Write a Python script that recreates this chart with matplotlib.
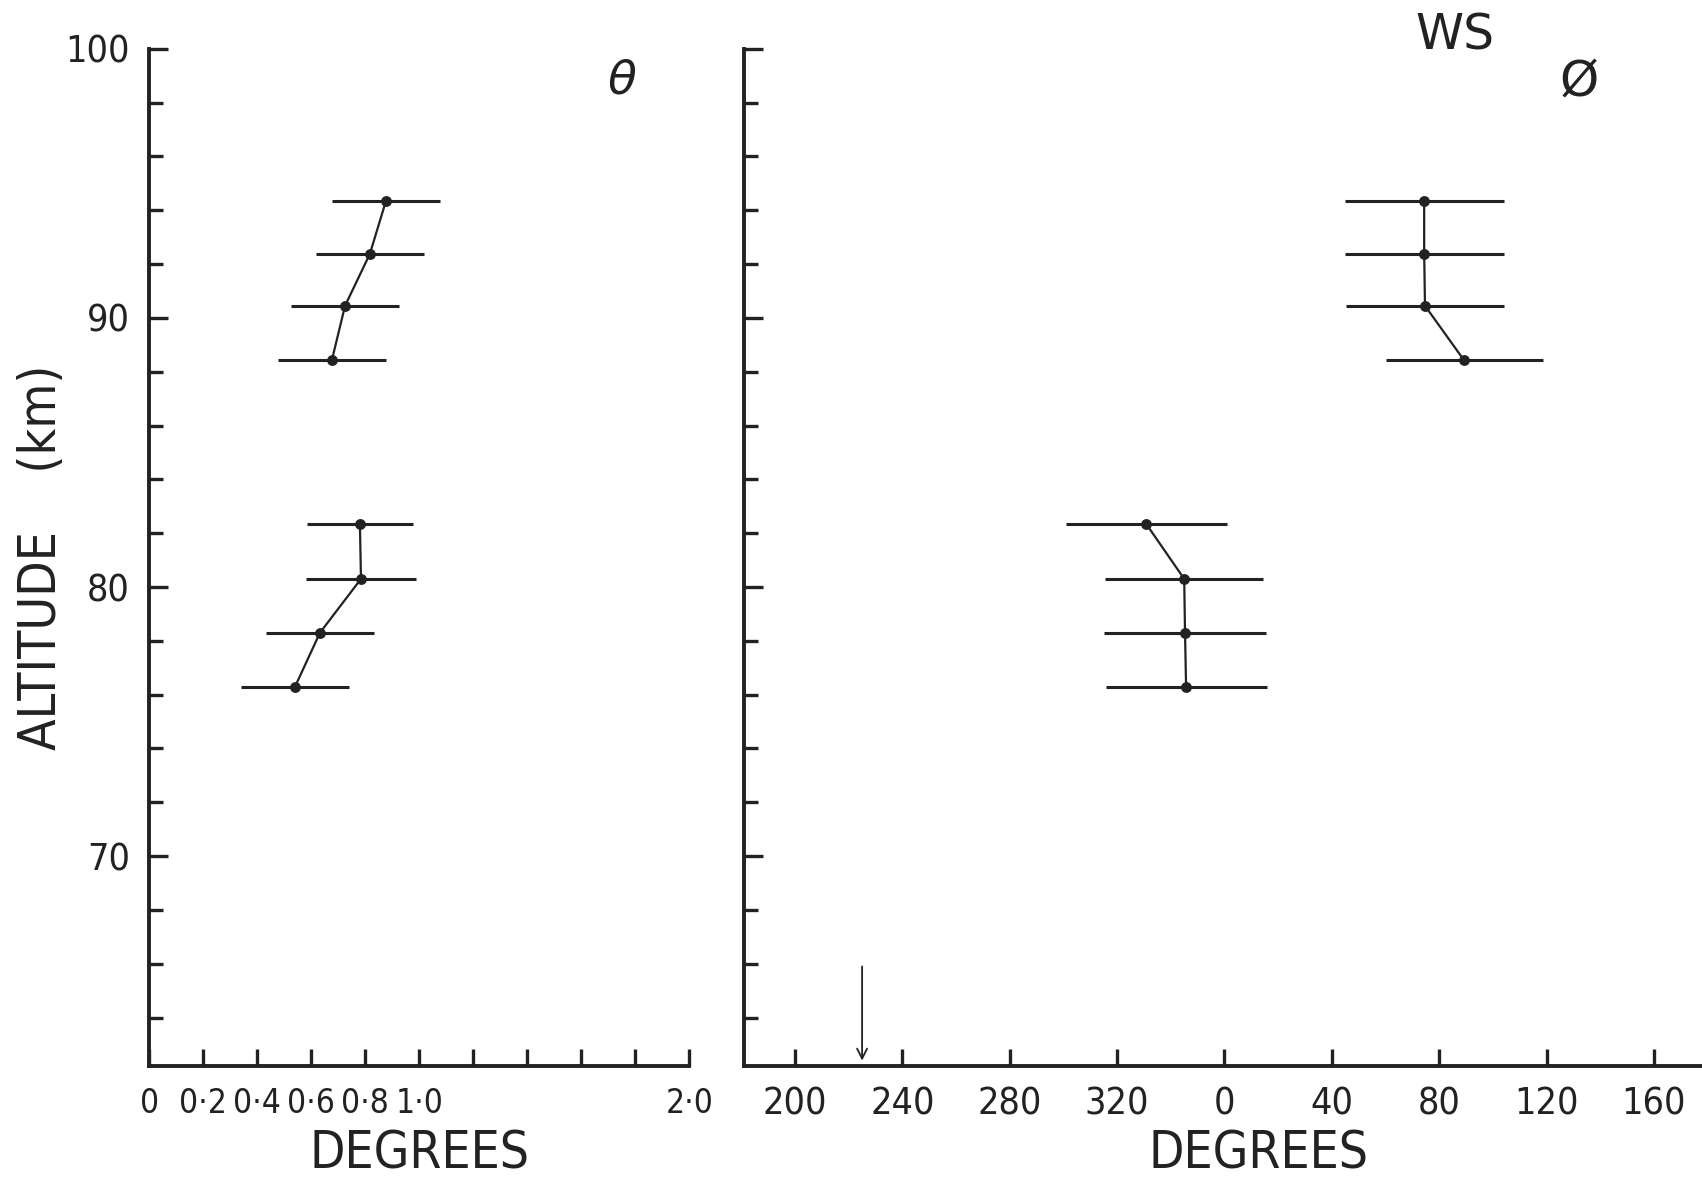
import matplotlib
matplotlib.use("Agg")
import matplotlib.pyplot as plt
from matplotlib import font_manager
from matplotlib.ticker import MultipleLocator, FixedLocator, FixedFormatter

# ---------------- data ----------------
altitude_upper = [94.33, 92.38, 90.45, 88.42]
altitude_lower = [82.35, 80.30, 78.30, 76.30]

theta_upper = [0.876, 0.817, 0.725, 0.676]
theta_lower = [0.780, 0.784, 0.632, 0.540]
theta_err_upper = [0.20, 0.20, 0.20, 0.20]
theta_err_lower = [0.195, 0.205, 0.20, 0.20]

phi_upper = [74.4, 74.4, 74.7, 89.3]       # degrees (direction)
phi_lower = [330.8, 345.0, 345.3, 345.7]
phi_err_upper = [29.6, 29.6, 29.5, 29.2]
phi_err_lower = [30.0, 29.5, 30.0, 30.0]

theta_ticks = [0.0, 0.2, 0.4, 0.6, 0.8, 1.0, 1.2, 1.4, 1.6, 1.8, 2.0]
theta_ticklabels = ["0", "0\u00b72", "0\u00b74", "0\u00b76", "0\u00b78", "1\u00b70",
                    "", "", "", "", "2\u00b70"]
phi_ticks = [200, 240, 280, 320, 360, 400, 440, 480, 520]
phi_ticklabels = ["200", "240", "280", "320", "0", "40", "80", "120", "160"]
alt_ticks = [70, 80, 90, 100]
alt_ticklabels = ["70", "80", "90", "100"]
arrow_phi = 225.0
arrow_alt = (65.9, 62.4)


def unwrap(vals):
    return [v if v >= 180 else v + 360 for v in vals]


# ---------------- fonts ----------------
names = {f.name for f in font_manager.fontManager.ttflist}
if "Liberation Sans Narrow" in names:
    FAM = ["Liberation Sans Narrow", "DejaVu Sans"]
    STRETCH = "normal"
else:
    FAM = ["DejaVu Sans"]
    STRETCH = "condensed"
plt.rcParams["font.family"] = FAM

INK = "#222222"
W, H = 1702, 1182
fig = plt.figure(figsize=(W / 100, H / 100), dpi=100)

ylim = (62.2, 100.0)
axL = fig.add_axes([149.3 / W, (H - 1066) / H, 540 / W, (1066 - 48.8) / H])
axR = fig.add_axes([744 / W, (H - 1066) / H, (W - 744) / W, (1066 - 48.8) / H])


def style(ax, xlabelsize):
    for s in ("top", "right"):
        ax.spines[s].set_visible(False)
    for s in ("left", "bottom"):
        ax.spines[s].set_linewidth(2.8)
        ax.spines[s].set_color(INK)
        ax.spines[s].set_capstyle("projecting")
    ax.set_ylim(*ylim)
    ax.yaxis.set_major_locator(FixedLocator(alt_ticks))
    ax.yaxis.set_minor_locator(MultipleLocator(2))
    ax.tick_params(axis="y", which="major", direction="in", length=14, width=2.4,
                   color=INK, pad=14, labelsize=27, labelcolor=INK)
    ax.tick_params(axis="y", which="minor", direction="in", length=10, width=2.4,
                   color=INK)
    ax.tick_params(axis="x", which="major", direction="in", length=12.5, width=2.4,
                   color=INK, pad=15, labelsize=xlabelsize, labelcolor=INK)
    ax.set_facecolor("white")


def draw(ax, alts, vals, errs):
    ax.errorbar(vals, alts, xerr=errs, fmt="o", color=INK, ecolor=INK,
                elinewidth=2.2, capsize=0, markersize=6.8, lw=0, zorder=3)
    ax.plot(vals, alts, color=INK, lw=1.6, zorder=2)


# left panel: theta
style(axL, 24)
axL.set_xlim(0, 2.0)
axL.xaxis.set_major_locator(FixedLocator(theta_ticks))
axL.xaxis.set_major_formatter(FixedFormatter(theta_ticklabels))
axL.yaxis.set_major_formatter(FixedFormatter(alt_ticklabels))
draw(axL, altitude_upper, theta_upper, theta_err_upper)
draw(axL, altitude_lower, theta_lower, theta_err_lower)
axL.set_xlabel("DEGREES", fontsize=37, color=INK, fontstretch=STRETCH)
axL.xaxis.set_label_coords(0.5, -0.062)
axL.set_ylabel("ALTITUDE    (km)", fontsize=37, color=INK, labelpad=-1,
               fontstretch=STRETCH)
axL.text(1.747, 98.8, "\u03b8", fontsize=34, color=INK, ha="center", va="center",
         style="italic")

# right panel: phi
style(axR, 27)
axR.set_xlim(181.0, 537.9)
axR.xaxis.set_major_locator(FixedLocator(phi_ticks))
axR.xaxis.set_major_formatter(FixedFormatter(phi_ticklabels))
axR.tick_params(axis="y", which="both", labelleft=False)
draw(axR, altitude_upper, unwrap(phi_upper), phi_err_upper)
draw(axR, altitude_lower, unwrap(phi_lower), phi_err_lower)
axR.set_xlabel("DEGREES", fontsize=37, color=INK, fontstretch=STRETCH)
axR.xaxis.set_label_coords((1259 - 744) / (W - 744), -0.062)
axR.text(492.1, 98.8, "\u00d8", fontsize=36, color=INK, ha="center", va="center")
axR.text(445.9, 100.5, "WS", fontsize=35, color=INK, ha="center", va="center",
         clip_on=False)
axR.annotate("", xy=(arrow_phi, arrow_alt[1]), xytext=(arrow_phi, arrow_alt[0]),
             arrowprops=dict(arrowstyle="->", lw=1.3, color=INK,
                             mutation_scale=18, shrinkA=0, shrinkB=0))

for ax in (axL, axR):
    for lab in ax.get_xticklabels() + ax.get_yticklabels():
        lab.set_fontstretch(STRETCH)

fig.savefig("out.png", dpi=100, facecolor="white")
